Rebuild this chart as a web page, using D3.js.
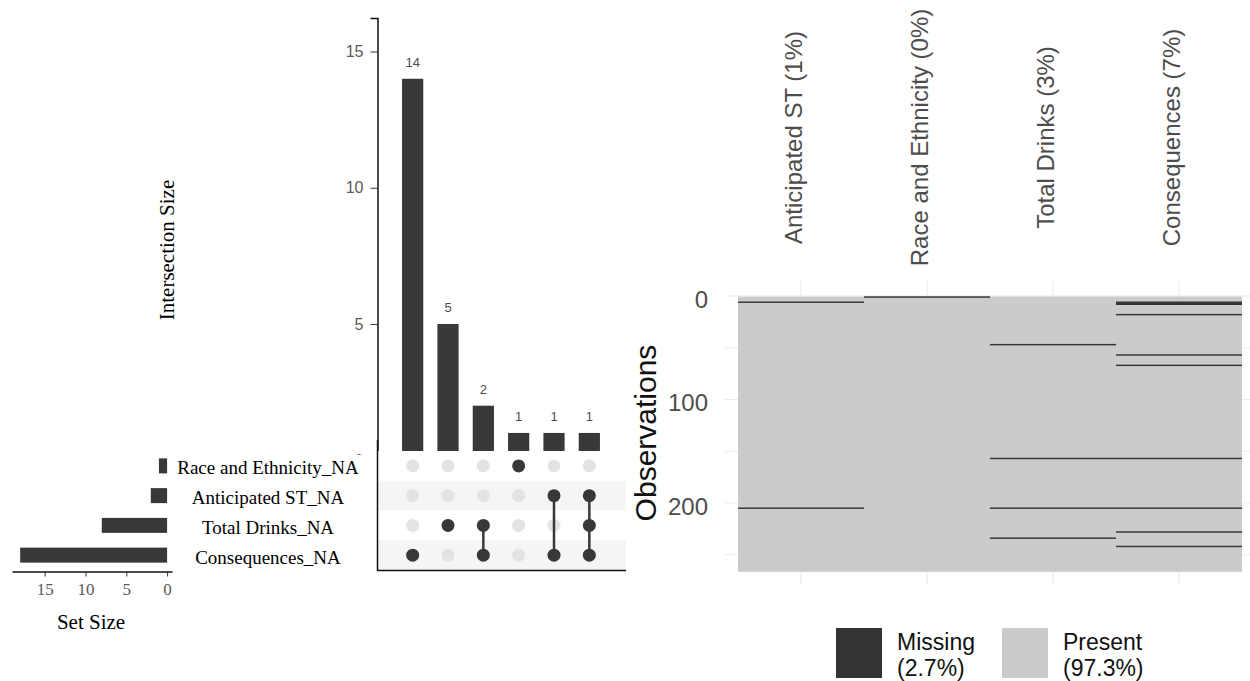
<!DOCTYPE html>
<html><head><meta charset="utf-8">
<script src="https://cdn.jsdelivr.net/npm/d3@7"></script>
<style>body{margin:0;background:#fff}svg{display:block}</style>
</head><body>
<svg id="c" width="1250" height="681"></svg>
<script>
// ---------- DATA ----------
const setNames = ["Race and Ethnicity_NA", "Anticipated ST_NA", "Total Drinks_NA", "Consequences_NA"];
const setSizes = [1, 2, 8, 18];
const interSizes = [14, 5, 2, 1, 1, 1];
const interMembers = [
  ["Consequences_NA"],
  ["Total Drinks_NA"],
  ["Total Drinks_NA", "Consequences_NA"],
  ["Race and Ethnicity_NA"],
  ["Anticipated ST_NA", "Consequences_NA"],
  ["Anticipated ST_NA", "Total Drinks_NA", "Consequences_NA"]
];
const interTicks = [0, 5, 10, 15];
const setTicks = [0, 5, 10, 15];

const visVars = ["Anticipated ST (1%)", "Race and Ethnicity (0%)", "Total Drinks (3%)", "Consequences (7%)"];
const nObs = 266;
const missAnticipated = [6, 205];
const missRace = [1];
const missDrinks = [47, 157, 205, 234];
const missConsequences = [6, 7, 8, 18, 57, 67, 157, 205, 228, 242];
const obsTicks = [0, 100, 200];
const obsGrid = [0, 50, 100, 150, 200, 250];
const legendItems = [["Missing", "(2.7%)"], ["Present", "(97.3%)"]];

// ---------- DRAW ----------
const svg = d3.select("#c");
const dark = "#383838";
const serif = "'Liberation Serif','Times New Roman',serif";
const sans = "'Liberation Sans',Arial,sans-serif";

// ===== UpSet: intersection bars =====
const xI = d3.scaleBand().domain(d3.range(interSizes.length)).range([395, 607]).paddingInner(0.4).paddingOuter(0.2);
const yI = d3.scaleLinear().domain([0, 16.23]).range([460.2, 18]);

const gI = svg.append("g");
gI.selectAll("rect.ib").data(interSizes).join("rect")
  .attr("x", (d, i) => xI(i)).attr("width", xI.bandwidth())
  .attr("y", d => yI(d)).attr("height", d => yI(0) - yI(d)).attr("fill", dark);
gI.selectAll("text.il").data(interSizes).join("text")
  .attr("x", (d, i) => xI(i) + xI.bandwidth() / 2).attr("y", d => yI(d) - 12)
  .attr("text-anchor", "middle").attr("font-family", sans).attr("font-size", 13)
  .attr("fill", "#4d4d4d").text(d => d);
const axI = d3.axisLeft(yI).tickValues(interTicks).tickSize(7).tickPadding(7);
const gAx = svg.append("g").attr("transform", "translate(377.5,0)").call(axI);
gAx.select(".domain").attr("stroke", "#111").attr("stroke-width", 1.5);
gAx.selectAll(".tick line").attr("stroke", "#333");
gAx.selectAll(".tick text").attr("font-family", sans).attr("font-size", 16).attr("fill", "#5a5a5a");

svg.append("text").attr("transform", "translate(167,250) rotate(-90)")
  .attr("text-anchor", "middle").attr("dominant-baseline", "central")
  .attr("font-family", serif).attr("font-size", 21).attr("fill", "#000").text("Intersection Size");

// ===== Matrix =====
const yM = d3.scaleBand().domain(setNames).range([451, 570]);
// white panels covering below bar area
svg.append("rect").attr("x", 172).attr("y", 455).attr("width", 205).attr("height", 117).attr("fill", "#fff");
svg.append("rect").attr("x", 377).attr("y", 451).attr("width", 249).attr("height", 119).attr("fill", "#fff");
svg.selectAll("rect.band").data(setNames.filter((d, i) => i % 2 === 1)).join("rect")
  .attr("x", 377).attr("width", 249).attr("y", d => yM(d)).attr("height", yM.bandwidth()).attr("fill", "#f5f5f5");

const cx = i => xI(i) + xI.bandwidth() / 2;
const cy = s => yM(s) + yM.bandwidth() / 2;
interMembers.forEach((mem, i) => {
  setNames.forEach(s => {
    svg.append("circle").attr("cx", cx(i)).attr("cy", cy(s)).attr("r", 6.5)
      .attr("fill", mem.includes(s) ? dark : "#e3e3e3");
  });
  if (mem.length > 1) {
    const ys = mem.map(cy);
    svg.append("line").attr("x1", cx(i)).attr("x2", cx(i))
      .attr("y1", d3.min(ys)).attr("y2", d3.max(ys)).attr("stroke", dark).attr("stroke-width", 2.5);
  }
});
// frame
svg.append("line").attr("x1", 377.5).attr("x2", 377.5).attr("y1", 440).attr("y2", 571).attr("stroke", "#111").attr("stroke-width", 1.5);
svg.append("line").attr("x1", 377).attr("x2", 626).attr("y1", 570.5).attr("y2", 570.5).attr("stroke", "#111").attr("stroke-width", 1.5);

// set names
svg.selectAll("text.sn").data(setNames).join("text")
  .attr("x", 268).attr("y", d => cy(d) + 2).attr("text-anchor", "middle").attr("dominant-baseline", "central")
  .attr("font-family", serif).attr("font-size", 19).attr("fill", "#000").text(d => d);

// ===== Set size bars =====
const xS = d3.scaleLinear().domain([19, -0.6]).range([12, 172]);
svg.selectAll("rect.sb").data(setSizes).join("rect")
  .attr("x", d => xS(d)).attr("width", d => xS(0) - xS(d))
  .attr("y", (d, i) => cy(setNames[i]) - 7.5).attr("height", 15).attr("fill", dark);
const axS = d3.axisBottom(xS).tickValues(setTicks).tickSize(5).tickPadding(6).tickSizeOuter(0);
const gS = svg.append("g").attr("transform", "translate(0,571.5)").call(axS);
gS.select(".domain").attr("stroke", "#111").attr("stroke-width", 1.5);
gS.selectAll(".tick line").attr("stroke", "#333");
gS.selectAll(".tick text").attr("font-family", serif).attr("font-size", 17).attr("fill", "#5a5a5a");
svg.append("text").attr("x", 91).attr("y", 629).attr("text-anchor", "middle")
  .attr("font-family", serif).attr("font-size", 21).attr("fill", "#000").text("Set Size");

// ===== vis_miss heatmap =====
const xH = d3.scaleBand().domain(visVars).range([738, 1242]);
const yH = d3.scaleLinear().domain([0, nObs]).range([296, 296 + nObs * 1.035]);
const gH = svg.append("g");
// grid
gH.selectAll("line.gv").data(visVars).join("line")
  .attr("x1", d => xH(d) + xH.bandwidth() / 2).attr("x2", d => xH(d) + xH.bandwidth() / 2)
  .attr("y1", 281).attr("y2", 585).attr("stroke", "#ebebeb").attr("stroke-width", 1.2);
gH.selectAll("line.gh").data(obsGrid).join("line")
  .attr("x1", 725).attr("x2", 1250).attr("y1", d => yH(d)).attr("y2", d => yH(d))
  .attr("stroke", "#ebebeb").attr("stroke-width", 1.2);
gH.append("rect").attr("x", xH.range()[0]).attr("width", xH.range()[1] - xH.range()[0])
  .attr("y", yH(0.5)).attr("height", yH(nObs + 0.5) - yH(0.5)).attr("fill", "#cbcbcb");
const missing = [missAnticipated, missRace, missDrinks, missConsequences];
visVars.forEach((v, k) => {
  gH.selectAll(null).data(missing[k]).join("rect")
    .attr("x", xH(v)).attr("width", xH.bandwidth())
    .attr("y", r => yH(r - 0.5) - 0.2).attr("height", r => yH(r + 0.5) - yH(r - 0.5) + 0.4)
    .attr("fill", "#333");
});
// y ticks
gH.selectAll("text.yt").data(obsTicks).join("text")
  .attr("x", 708).attr("y", d => yH(d) + 3).attr("text-anchor", "end").attr("dominant-baseline", "central")
  .attr("font-family", sans).attr("font-size", 24).attr("fill", "#4d4d4d").text(d => d);
svg.append("text").attr("transform", "translate(645,433) rotate(-90)")
  .attr("text-anchor", "middle").attr("dominant-baseline", "central")
  .attr("font-family", sans).attr("font-size", 30).attr("fill", "#111").text("Observations");
// column labels
gH.selectAll("text.xl").data(visVars).join("text")
  .attr("transform", d => `translate(${xH(d) + xH.bandwidth() / 2 - 8},137.5) rotate(-90)`)
  .attr("text-anchor", "middle").attr("dominant-baseline", "central")
  .attr("font-family", sans).attr("font-size", 24).attr("fill", "#4d4d4d").text(d => d);

// legend
const legX = [836, 1002];
const legCol = ["#333333", "#cbcbcb"];
legendItems.forEach((it, i) => {
  svg.append("rect").attr("x", legX[i]).attr("y", 628).attr("width", 46).attr("height", 50).attr("fill", legCol[i]);
  const t = svg.append("text").attr("font-family", sans).attr("font-size", 23).attr("fill", "#111");
  t.append("tspan").attr("x", legX[i] + 61).attr("y", 650).text(it[0]);
  t.append("tspan").attr("x", legX[i] + 61).attr("y", 676).text(it[1]);
});
</script>
</body></html>
